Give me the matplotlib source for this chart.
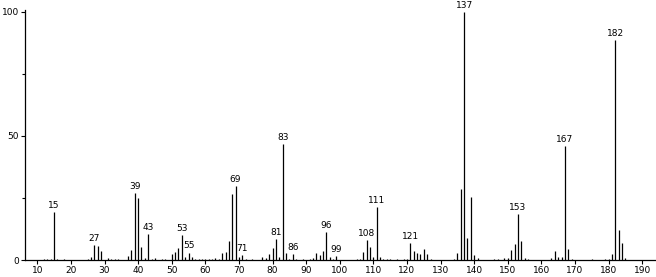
import matplotlib
matplotlib.use("Agg")
import matplotlib.pyplot as plt
from matplotlib.ticker import MultipleLocator, FixedLocator

# m/z values and relative intensities (%)
mz = [12, 13, 14, 15, 16, 18, 25, 26, 27, 28, 29, 31, 32, 33, 34,
      37, 38, 39, 40, 41, 42, 43, 44, 45, 47, 48, 50, 51, 52, 53, 54, 55, 56, 57, 58, 59,
      60, 61, 62, 63, 64, 65, 66, 67, 68, 69, 70, 71, 72, 74, 77, 78, 79, 80, 81, 82, 83,
      84, 85, 86, 87, 89, 91, 92, 93, 94, 95, 96, 97, 98, 99,
      105, 106, 107, 108, 109, 110, 111, 112, 113, 114, 115, 117, 119, 120,
      121, 122, 123, 124, 125, 126, 127, 134, 135, 136, 137, 138, 139, 140, 141,
      146, 147, 149, 150, 151, 152, 153, 154, 155, 156,
      163, 164, 165, 166, 167, 168, 169, 175, 179, 180, 181, 182, 183, 184, 185]
intensity = [0.3, 0.5, 0.6, 19.2, 0.3, 0.4, 0.4, 1.1, 6.2, 5.8, 3.6, 1.0, 0.5, 0.5, 0.4,
             1.6, 4.0, 26.8, 24.8, 5.1, 0.9, 10.5, 0.6, 0.7, 0.3, 0.4, 2.4, 3.2, 4.7, 10.1, 1.1, 3.0, 1.1, 0.6, 0.4, 0.3,
             0.5, 0.4, 0.5, 0.8, 0.5, 2.7, 3.1, 7.8, 26.4, 29.8, 1.1, 2.0, 0.5, 0.4, 1.1, 0.7, 2.4, 4.7, 8.3, 1.1, 46.7,
             2.7, 0.6, 2.4, 0.5, 0.3, 0.6, 0.8, 2.7, 2.0, 3.8, 11.1, 1.3, 0.5, 1.5,
             0.5, 0.5, 3.2, 7.9, 5.4, 1.1, 21.2, 1.3, 0.5, 0.4, 0.4, 0.3, 0.3, 0.3,
             7.0, 3.8, 2.7, 2.4, 4.6, 2.3, 0.6, 0.5, 2.7, 28.6, 100.0, 8.7, 25.5, 2.0, 0.8,
             0.5, 0.5, 0.8, 0.8, 4.2, 6.3, 18.5, 7.5, 0.8, 0.5,
             0.8, 3.6, 1.1, 1.1, 46.0, 4.4, 0.4, 0.3, 0.4, 0.6, 2.4, 88.6, 12.1, 7.0, 0.8]

labeled = [15, 27, 39, 43, 53, 55, 69, 71, 81, 83, 86, 96, 99, 108, 111, 121, 137, 153, 167, 182]

x_ticks = list(range(10, 191, 10))
y_ticks = [0, 50, 100]
y_minor = [25, 75]

fig = plt.figure(figsize=(6.56, 2.77), dpi=100)
ax = fig.add_axes([25 / 656, 17 / 277, 630 / 656, 250 / 277])

ax.vlines(mz, 0, intensity, colors="black", linewidth=0.9)

lookup = dict(zip(mz, intensity))
for m in labeled:
    ax.annotate(str(m), (m, lookup[m]), xytext=(0, 1.5), textcoords="offset points",
                ha="center", va="bottom", fontsize=6.5, color="black",
                annotation_clip=False)

ax.set_xlim(6.34, 193.8)
ax.set_ylim(0, 100.7)
ax.xaxis.set_major_locator(FixedLocator(x_ticks))
ax.yaxis.set_major_locator(FixedLocator(y_ticks))
ax.yaxis.set_minor_locator(FixedLocator(y_minor))
ax.tick_params(axis="both", which="major", labelsize=6.5, length=3, width=0.8,
               direction="out", pad=1.5, colors="black")
ax.tick_params(axis="y", which="minor", length=2, width=0.8, direction="out")
for s in ["top", "right"]:
    ax.spines[s].set_visible(False)
for s in ["left", "bottom"]:
    ax.spines[s].set_linewidth(0.9)

fig.savefig("out.png", dpi=100)
